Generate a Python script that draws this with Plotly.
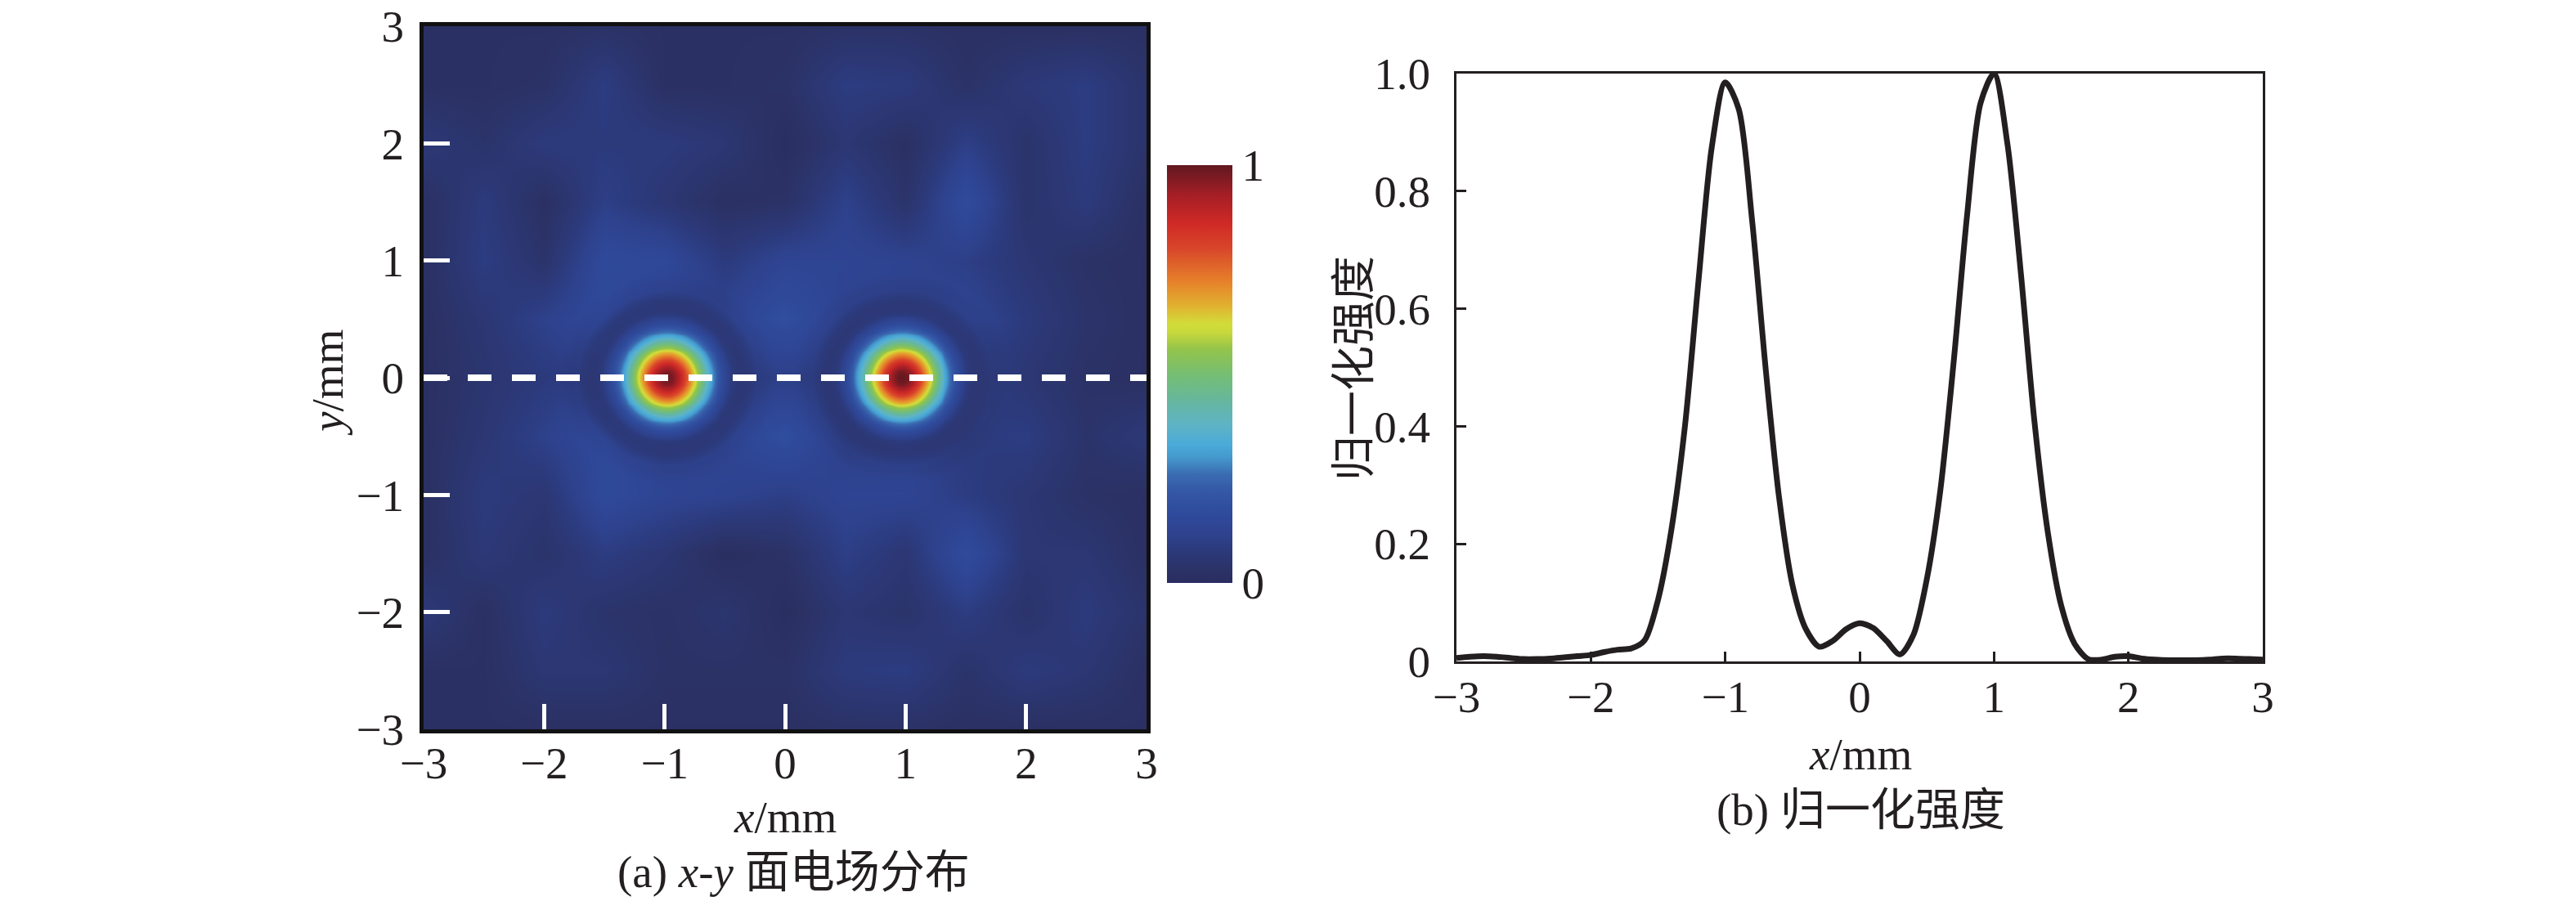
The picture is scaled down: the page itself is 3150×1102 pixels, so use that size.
import numpy as np
import plotly.graph_objects as go

W, H = 3150, 1102
FONT = "Liberation Serif, Noto Sans CJK SC"
INK = "#231f20"

# ---------------- panel (b): normalized intensity along y = 0 ----------------
profile_x = [-3.0, -2.9, -2.8, -2.7, -2.6, -2.5, -2.4, -2.3, -2.2, -2.1,
             -2.0, -1.9, -1.8, -1.7, -1.6, -1.5, -1.4, -1.3, -1.2, -1.1,
             -1.0, -0.9, -0.8, -0.7, -0.6, -0.5, -0.4, -0.3, -0.2, -0.1,
             0.0, 0.1, 0.2, 0.3, 0.4, 0.5, 0.6, 0.7, 0.8, 0.9,
             1.0, 1.1, 1.2, 1.3, 1.4, 1.5, 1.6, 1.7, 1.8, 1.9,
             2.0, 2.1, 2.2, 2.3, 2.4, 2.5, 2.6, 2.7, 2.8, 2.9, 3.0]
profile_y = [0.006, 0.008, 0.009, 0.008, 0.006, 0.004, 0.004, 0.005, 0.007, 0.009,
             0.011, 0.016, 0.020, 0.022, 0.036, 0.105, 0.225, 0.400, 0.645, 0.875,
             0.985, 0.940, 0.750, 0.500, 0.280, 0.130, 0.055, 0.025, 0.035, 0.055,
             0.065, 0.057, 0.035, 0.012, 0.045, 0.140, 0.290, 0.510, 0.760, 0.950,
             1.000, 0.880, 0.660, 0.410, 0.220, 0.095, 0.030, 0.004, 0.003, 0.008,
             0.009, 0.005, 0.003, 0.002, 0.002, 0.002, 0.003, 0.005, 0.005, 0.004, 0.003]

x_ticks = [-3, -2, -1, 0, 1, 2, 3]
x_ticktext = ["\u22123", "\u22122", "\u22121", "0", "1", "2", "3"]
b_yticks = [0, 0.2, 0.4, 0.6, 0.8, 1.0]
b_yticktext = ["0", "0.2", "0.4", "0.6", "0.8", "1.0"]

# ---------------- panel (a): x-y field distribution ----------------
spot_cx = [-0.98, 0.97]
spot_cy = [0.0, 0.0]
spot_peak = [0.99, 1.0]
# radial profile of a spot (distance from centre in mm -> normalized value)
spot_r = [0.0, 0.05, 0.10, 0.15, 0.20, 0.25, 0.30, 0.35, 0.40, 0.45, 0.50, 0.55, 0.60, 0.70, 0.80]
spot_v = [1.0, 0.98, 0.92, 0.82, 0.70, 0.58, 0.46, 0.34, 0.25, 0.17, 0.11, 0.065, 0.04, 0.015, 0.0]
# dark ring around each spot: fraction of the background kept at distance r
ring_r = [0.0, 0.40, 0.55, 0.65, 0.75, 0.90]
ring_k = [0.0, 0.05, 0.10, 0.35, 0.80, 1.00]

# weak background speckle, read on a 0.5 mm grid (rows: y = 3 ... -3, cols: x = -3 ... 3)
bg_x = [-3.0, -2.5, -2.0, -1.5, -1.0, -0.5, 0.0, 0.5, 1.0, 1.5, 2.0, 2.5, 3.0]
bg_y = [3.0, 2.5, 2.0, 1.5, 1.0, 0.5, 0.0, -0.5, -1.0, -1.5, -2.0, -2.5, -3.0]
bg_rows = [
    [0.02, 0.02, 0.02, 0.03, 0.02, 0.02, 0.02, 0.03, 0.03, 0.02, 0.02, 0.02, 0.02],
    [0.02, 0.02, 0.03, 0.09, 0.02, 0.02, 0.03, 0.09, 0.08, 0.03, 0.07, 0.09, 0.04],
    [0.07, 0.04, 0.08, 0.08, 0.08, 0.06, 0.01, 0.06, 0.02, 0.10, 0.04, 0.09, 0.04],
    [0.02, 0.08, 0.02, 0.10, 0.06, 0.02, 0.03, 0.11, 0.04, 0.17, 0.04, 0.08, 0.02],
    [0.02, 0.09, 0.04, 0.16, 0.15, 0.08, 0.13, 0.13, 0.12, 0.10, 0.06, 0.03, 0.02],
    [0.02, 0.06, 0.11, 0.16, 0.12, 0.13, 0.18, 0.12, 0.12, 0.13, 0.08, 0.04, 0.02],
    [0.02, 0.05, 0.08, 0.10, 0.10, 0.10, 0.10, 0.10, 0.10, 0.10, 0.06, 0.03, 0.02],
    [0.02, 0.06, 0.11, 0.16, 0.12, 0.13, 0.18, 0.10, 0.12, 0.08, 0.09, 0.04, 0.07],
    [0.02, 0.08, 0.06, 0.16, 0.13, 0.12, 0.10, 0.13, 0.13, 0.09, 0.06, 0.03, 0.02],
    [0.02, 0.07, 0.04, 0.09, 0.06, 0.01, 0.03, 0.10, 0.06, 0.17, 0.06, 0.06, 0.02],
    [0.07, 0.02, 0.08, 0.04, 0.03, 0.05, 0.01, 0.06, 0.04, 0.09, 0.04, 0.08, 0.04],
    [0.02, 0.02, 0.06, 0.06, 0.03, 0.03, 0.03, 0.08, 0.09, 0.04, 0.08, 0.06, 0.02],
    [0.02, 0.02, 0.02, 0.02, 0.02, 0.02, 0.02, 0.03, 0.03, 0.02, 0.02, 0.02, 0.02],
]
cut_x = [-3, 3]
cut_y = [0, 0]

field_colors = [
    [0.00, "#2a2d60"], [0.03, "#2b3266"], [0.08, "#2c3a7c"], [0.12, "#2e4390"],
    [0.17, "#2f4b9c"], [0.22, "#3458a6"], [0.26, "#3a6cb2"], [0.30, "#4598cc"],
    [0.33, "#4aaad8"], [0.38, "#5fb4c4"], [0.43, "#64b6a2"], [0.50, "#76be72"],
    [0.56, "#94c44a"], [0.60, "#c8d83c"], [0.62, "#d2dc3a"], [0.66, "#e0b430"],
    [0.72, "#e6822a"], [0.80, "#d8462a"], [0.86, "#d02a26"], [0.93, "#a41e26"],
    [1.00, "#601820"],
]

# ---- build the field on a fine grid from the values above ----
gx = np.linspace(-3, 3, 301)
gy = np.linspace(-3, 3, 301)
bgx = np.array(bg_x)
bgy = np.array(bg_y)[::-1]
bgz = np.array(bg_rows)[::-1]
tmp = np.array([np.interp(gx, bgx, row) for row in bgz])
bg_fine = np.array([np.interp(gy, bgy, tmp[:, j]) for j in range(len(gx))]).T
XX, YY = np.meshgrid(gx, gy)
keep = np.ones_like(bg_fine)
spots = np.zeros_like(bg_fine)
for cx, cy, pk in zip(spot_cx, spot_cy, spot_peak):
    rr = np.sqrt((XX - cx) ** 2 + (YY - cy) ** 2)
    keep *= np.interp(rr, ring_r, ring_k)
    spots += pk * np.interp(rr, spot_r, spot_v, right=0.0)
field = np.clip(bg_fine * keep + spots, 0, 1)

fig = go.Figure()
fig.add_trace(go.Heatmap(
    x=gx, y=gy, z=field, zmin=0, zmax=1, zsmooth="best",
    colorscale=field_colors, xaxis="x", yaxis="y", hoverinfo="skip",
    colorbar=dict(
        x=1427 / W, xanchor="left", xref="paper",
        y=1 - 457.5 / H, yanchor="middle", yref="paper",
        thickness=80, thicknessmode="pixels",
        len=511, lenmode="pixels",
        xpad=0, ypad=0, outlinewidth=0,
        tickvals=[0, 1], ticktext=["0", "1"], ticks="",
        tickfont=dict(family=FONT, size=55, color=INK),
    ),
))
fig.add_trace(go.Scatter(
    x=cut_x, y=cut_y, mode="lines", xaxis="x", yaxis="y",
    line=dict(color="white", width=8, dash="29px,25px"), hoverinfo="skip",
    showlegend=False,
))
fig.add_trace(go.Scatter(
    x=profile_x, y=profile_y, mode="lines", xaxis="x2", yaxis="y2",
    line=dict(color=INK, width=7, shape="spline", smoothing=0.8),
    hoverinfo="skip", showlegend=False,
))

tickfont = dict(family=FONT, size=55, color=INK)
common = dict(showgrid=False, zeroline=False, tickfont=tickfont, automargin=False,
              tickmode="array", showline=True, mirror=True)
fig.update_layout(
    width=W, height=H, autosize=False,
    margin=dict(l=0, r=0, t=0, b=0, pad=0, autoexpand=False),
    paper_bgcolor="white", plot_bgcolor="white",
    showlegend=False,
    font=dict(family=FONT, size=55, color=INK),
    xaxis=dict(domain=[518 / W, 1402 / W], range=[-3, 3], anchor="y",
               tickvals=x_ticks, ticktext=x_ticktext,
               ticks="inside", ticklen=31, tickwidth=5, tickcolor="white",
               ticklabelstandoff=-11, linecolor="#111111", linewidth=5,
               layer="above traces", **common),
    yaxis=dict(domain=[1 - 892 / H, 1 - 32 / H], range=[-3, 3], anchor="x",
               tickvals=x_ticks, ticktext=x_ticktext,
               ticks="inside", ticklen=32, tickwidth=5, tickcolor="white",
               ticklabelstandoff=8, linecolor="#111111", linewidth=5,
               layer="above traces", **common),
    xaxis2=dict(domain=[1781 / W, 2767 / W], range=[-3, 3], anchor="y2",
                tickvals=x_ticks, ticktext=x_ticktext,
                ticks="inside", ticklen=12, tickwidth=3, tickcolor=INK,
                ticklabelstandoff=-7, linecolor=INK, linewidth=3, **common),
    yaxis2=dict(domain=[1 - 809 / H, 1 - 90 / H], range=[0, 1.0], anchor="x2",
                tickvals=b_yticks, ticktext=b_yticktext,
                ticks="inside", ticklen=12, tickwidth=3, tickcolor=INK,
                ticklabelstandoff=18, linecolor=INK, linewidth=3, **common),
)

def note(text, xpx, ypx, angle=0):
    fig.add_annotation(text=text, x=xpx / W, y=1 - ypx / H, xref="paper", yref="paper",
                       xanchor="center", yanchor="middle", showarrow=False,
                       textangle=angle, font=dict(family=FONT, size=55, color=INK))

note("<i>x</i>/mm", 960, 999)
note("(a) <i>x</i>-<i>y</i> 面电场分布", 970, 1066)
note("<i>y</i>/mm", 400, 468, -90)
note("<i>x</i>/mm", 2275, 922)
note("(b) 归一化强度", 2275, 990)
note("归一化强度", 1656, 451, -90)

fig.write_html("out.html", config={"displayModeBar": False},
               post_script="document.body.style.margin='0px';")
